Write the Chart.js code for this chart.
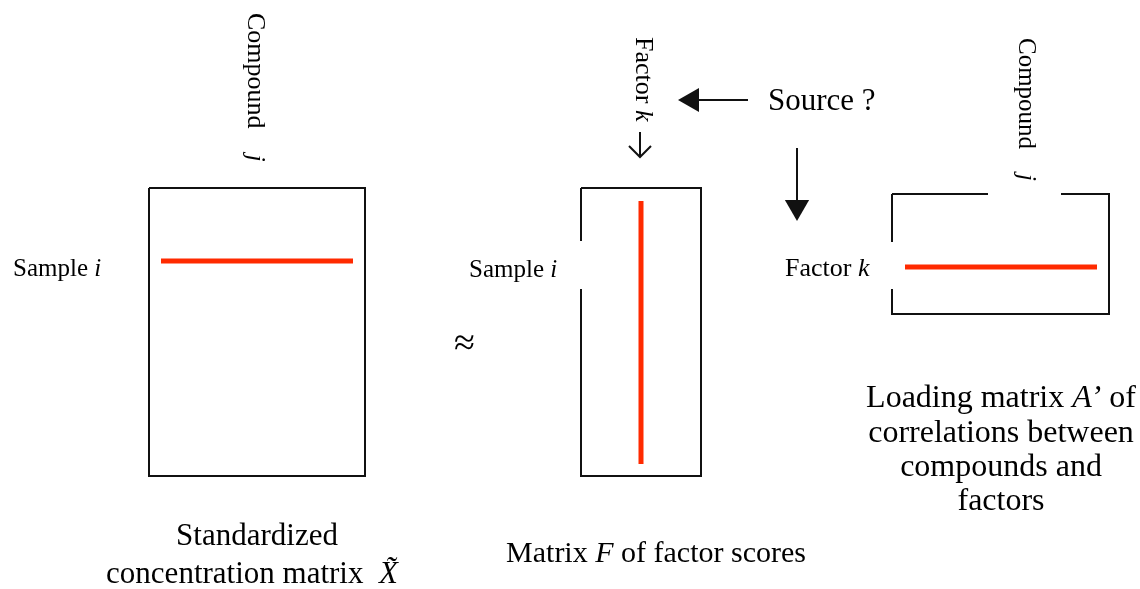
<!DOCTYPE html>
<html>
<head>
<meta charset="utf-8">
<script src="https://cdn.jsdelivr.net/npm/chart.js@4.4.0/dist/chart.umd.min.js"></script>
<style>
  html, body { margin: 0; padding: 0; background: #fff; }
  #wrap { width: 1140px; height: 589px; }
</style>
</head>
<body>
<div id="wrap"><canvas id="diagram" width="1140" height="589"></canvas></div>
<script>
// the three matrices (X~, F, A') as boxes, in page units
const matrixLeft   = [149, 581, 892];
const matrixRight  = [365, 701, 1109];
const matrixTop    = [188, 188, 194];
const matrixBottom = [476, 476, 314];

// red row / column picked out in each matrix
const stripeX1 = [161, 641, 905];
const stripeX2 = [353, 641, 1097];
const stripeY1 = [261, 201, 267];
const stripeY2 = [261, 464, 267];

// solid arrows from "Source ?"
const arrowFromX = [748, 797];
const arrowFromY = [100, 148];
const arrowTipX  = [678, 797];
const arrowTipY  = [100, 221];
const arrowAngle = [-90, 180];

// small open arrow under "Factor k"
const smallArrowX = [640, 640];
const smallArrowY = [132, 157];

// texts, as [string, italic] pieces
const labelText = [
  [['Compound    ', 0], ['j', 1]],
  [['Compound    ', 0], ['j', 1]],
  [['Factor ', 0], ['k', 1]],
  [['Source ?', 0]],
  [['Sample ', 0], ['i', 1]],
  [['Sample ', 0], ['i', 1]],
  [['Factor ', 0], ['k', 1]],
  [['\u2248', 0]],
  [['Standardized', 0]],
  [['concentration matrix  ', 0], ['X\u0303', 1]],
  [['Matrix ', 0], ['F', 1], [' of factor scores', 0]],
  [['Loading matrix ', 0], ['A\u2019', 1], [' of', 0]],
  [['correlations between', 0]],
  [['compounds and', 0]],
  [['factors', 0]]
];
const labelLayout = [
  { x: 248, y: 13, size: 26, rot: 1 },
  { x: 1019, y: 38, size: 25, rot: 1, bg: [988, 30, 1061, 196] },
  { x: 636, y: 37, size: 26, rot: 1 },
  { x: 768, y: 110, size: 31 },
  { x: 13, y: 276, size: 25 },
  { x: 469, y: 277, size: 25, bg: [462, 241, 584, 289] },
  { x: 785, y: 276, size: 26, bg: [778, 242, 894, 289] },
  { x: 454, y: 355, size: 38 },
  { x: 257, y: 545, size: 31, center: 1 },
  { x: 252, y: 583, size: 31, center: 1 },
  { x: 656, y: 562, size: 30, center: 1 },
  { x: 1001, y: 407, size: 32, center: 1 },
  { x: 1001, y: 442, size: 32, center: 1 },
  { x: 1001, y: 476, size: 32, center: 1 },
  { x: 1001, y: 510, size: 32, center: 1 }
];

const FONT = '"Liberation Serif", "Times New Roman", serif';
const INK = '#111';
const RED = '#ff2a00';

const datasets = [];

matrixLeft.forEach(function(l, i) {
  const r = matrixRight[i], t = matrixTop[i], b = matrixBottom[i];
  datasets.push({
    data: [{x: l, y: t}, {x: r, y: t}, {x: r, y: b}, {x: l, y: b}, {x: l, y: t}],
    borderColor: INK, borderWidth: 2, showLine: true, pointRadius: 0
  });
});

stripeX1.forEach(function(x1, i) {
  datasets.push({
    data: [{x: x1, y: stripeY1[i]}, {x: stripeX2[i], y: stripeY2[i]}],
    borderColor: RED, borderWidth: 5, showLine: true, pointRadius: 0,
    borderCapStyle: 'butt'
  });
});

const headR = 14;
arrowFromX.forEach(function(fx, i) {
  const tx = arrowTipX[i], ty = arrowTipY[i];
  const dx = Math.sign(tx - fx), dy = Math.sign(ty - arrowFromY[i]);
  // shaft stops under the head
  datasets.push({
    data: [{x: fx, y: arrowFromY[i]}, {x: tx - dx * 12, y: ty - dy * 12}],
    borderColor: INK, borderWidth: 2, showLine: true, pointRadius: 0
  });
  // head: a triangle point, centred one radius back from the tip
  datasets.push({
    data: [{x: tx - dx * headR, y: ty - dy * headR}],
    showLine: false, pointStyle: 'triangle', pointRadius: headR,
    pointRotation: arrowAngle[i], pointBackgroundColor: INK,
    pointBorderColor: INK, pointBorderWidth: 0
  });
});

datasets.push({
  data: [{x: smallArrowX[0], y: smallArrowY[0]}, {x: smallArrowX[1], y: smallArrowY[1]}],
  borderColor: INK, borderWidth: 2, showLine: true, pointRadius: 0
});
datasets.push({
  data: [{x: smallArrowX[1] - 11, y: smallArrowY[1] - 11}, {x: smallArrowX[1], y: smallArrowY[1]},
         {x: smallArrowX[1] + 11, y: smallArrowY[1] - 11}],
  borderColor: INK, borderWidth: 2, showLine: true, pointRadius: 0
});

const textPlugin = {
  id: 'diagramText',
  afterDatasetsDraw(chart) {
    const ctx = chart.ctx;
    const sx = chart.scales.x, sy = chart.scales.y;

    labelLayout.forEach(function(pos, i) {
      if (!pos.bg) return;
      const x0 = sx.getPixelForValue(pos.bg[0]), y0 = sy.getPixelForValue(pos.bg[1]);
      const x1 = sx.getPixelForValue(pos.bg[2]), y1 = sy.getPixelForValue(pos.bg[3]);
      ctx.save();
      ctx.fillStyle = '#fff';
      ctx.fillRect(x0, y0, x1 - x0, y1 - y0);
      ctx.restore();
    });

    labelText.forEach(function(segs, i) {
      const pos = labelLayout[i];
      ctx.save();
      ctx.fillStyle = '#000';
      ctx.textBaseline = 'alphabetic';
      ctx.textAlign = 'left';
      let total = 0;
      const widths = segs.map(function(s) {
        ctx.font = (s[1] ? 'italic ' : '') + pos.size + 'px ' + FONT;
        const w = ctx.measureText(s[0]).width;
        total += w;
        return w;
      });
      ctx.translate(sx.getPixelForValue(pos.x), sy.getPixelForValue(pos.y));
      if (pos.rot) ctx.rotate(Math.PI / 2);
      let cx = pos.center ? -total / 2 : 0;
      segs.forEach(function(s, k) {
        ctx.font = (s[1] ? 'italic ' : '') + pos.size + 'px ' + FONT;
        ctx.fillText(s[0], cx, 0);
        cx += widths[k];
      });
      ctx.restore();
    });
  }
};

new Chart(document.getElementById('diagram'), {
  type: 'scatter',
  data: { datasets: datasets },
  options: {
    responsive: false,
    animation: false,
    layout: { padding: 0, autoPadding: false },
    elements: { line: { tension: 0 } },
    scales: {
      x: { type: 'linear', min: 0, max: 1140, display: false },
      y: { type: 'linear', min: 0, max: 589, reverse: true, display: false }
    },
    plugins: {
      legend: { display: false },
      tooltip: { enabled: false }
    }
  },
  plugins: [textPlugin]
});
</script>
</body>
</html>
